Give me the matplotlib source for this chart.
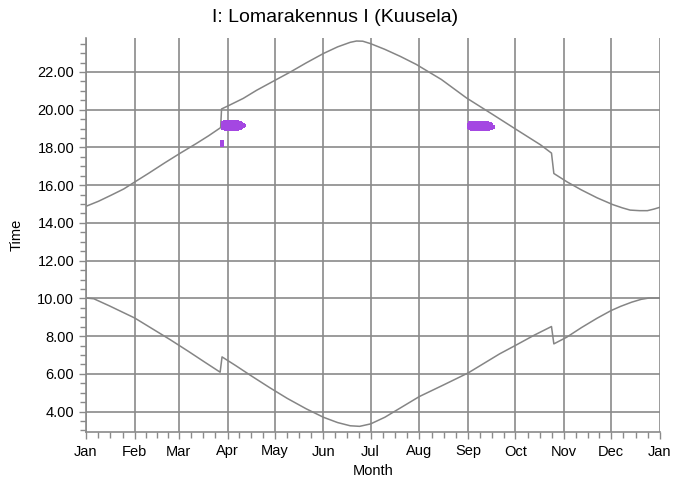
import matplotlib
matplotlib.use("Agg")
import matplotlib.pyplot as plt
from matplotlib.ticker import FixedLocator, MultipleLocator, FuncFormatter

title = "I: Lomarakennus I (Kuusela)"
x_label = "Month"
y_label = "Time"
month_labels = ["Jan", "Feb", "Mar", "Apr", "May", "Jun", "Jul",
                "Aug", "Sep", "Oct", "Nov", "Dec", "Jan"]
month_starts = [0, 31, 59, 90, 120, 151, 181, 212, 243, 273, 304, 334, 365]

# Sunset (upper curve), day of year -> hour
sunset_days = [0, 8, 16, 24, 31, 40, 50, 60, 70, 78, 85.6,
               86.2, 90, 100, 108.5, 120, 130, 140, 151, 160, 168, 172, 176,
               181, 190, 200, 210, 226, 242, 258, 274, 289, 296,
               297.5, 306, 315, 325, 335, 341, 346, 352, 357, 361, 365]
sunset_hours = [14.88, 15.15, 15.47, 15.8, 16.17, 16.64, 17.18, 17.7, 18.2, 18.62, 19.05,
                20.04, 20.19, 20.6, 21.03, 21.55, 22.0, 22.48, 22.98, 23.33, 23.57, 23.64, 23.63,
                23.5, 23.2, 22.82, 22.4, 21.6, 20.62, 19.78, 18.93, 18.14, 17.7,
                16.62, 16.17, 15.75, 15.33, 14.97, 14.8, 14.68, 14.65, 14.65, 14.73, 14.83]

# Sunrise (lower curve)
sunrise_days = [0, 5, 15, 31, 42, 53.4, 65, 75, 85.3,
                86.5, 95, 105, 117, 128, 140, 151, 160, 168, 174, 181,
                190, 200, 212, 227, 243, 263, 274, 285, 296,
                297.5, 305.6, 315, 325, 334, 340, 347, 353, 358, 365]
sunrise_hours = [10.02, 9.98, 9.6, 8.96, 8.4, 7.82, 7.2, 6.65, 6.09,
                 6.9, 6.45, 5.9, 5.26, 4.7, 4.15, 3.7, 3.42, 3.25, 3.22, 3.35,
                 3.7, 4.2, 4.8, 5.4, 6.05, 7.06, 7.55, 8.05, 8.51,
                 7.59, 7.94, 8.45, 8.95, 9.36, 9.58, 9.8, 9.95, 10.02, 10.02]

# Shadow flicker periods (purple): day, start hour, end hour
shadow_a_days = [85, 86, 87]
shadow_a_start = [18.05, 18.05, 18.05]
shadow_a_end = [18.4, 18.4, 18.4]

shadow_b_days = [86, 87, 88, 89, 90, 91, 92, 93, 94, 95, 96, 97, 98, 99, 100, 101]
shadow_b_start = [18.92, 18.9, 18.88, 18.88, 18.88, 18.88, 18.88, 18.88, 18.88,
                  18.88, 18.88, 18.9, 18.93, 18.97, 19.02, 19.08]
shadow_b_end = [19.42, 19.43, 19.43, 19.43, 19.43, 19.43, 19.43, 19.43, 19.43,
                19.43, 19.43, 19.42, 19.38, 19.35, 19.3, 19.22]

shadow_c_days = [242, 243, 244, 245, 246, 247, 248, 249, 250, 251, 252, 253,
                 254, 255, 256, 257, 258, 259]
shadow_c_start = [18.98, 18.9, 18.86, 18.85, 18.85, 18.85, 18.85, 18.85, 18.85,
                  18.85, 18.85, 18.85, 18.85, 18.86, 18.87, 18.9, 18.95, 19.0]
shadow_c_end = [19.3, 19.38, 19.4, 19.4, 19.4, 19.4, 19.4, 19.4, 19.4,
                19.4, 19.4, 19.4, 19.4, 19.4, 19.37, 19.33, 19.28, 19.2]

line_color = "#858585"
grid_color = "#8a8a8a"
purple = "#a447e2"

plt.rcParams["font.family"] = ["Liberation Sans", "DejaVu Sans"]

fig = plt.figure(figsize=(6.74, 4.82), dpi=100)
ax = fig.add_axes([86 / 674, 1 - 432 / 482, (660 - 86) / 674, (432 - 38) / 482])

ax.set_xlim(0, 365)
ax.set_ylim(2.92, 23.8)

ax.xaxis.set_major_locator(FixedLocator(month_starts))
ax.set_xticklabels(month_labels)
minor_x = []
for a, b in zip(month_starts[:-1], month_starts[1:]):
    for k in (1, 2, 3):
        minor_x.append(a + (b - a) * k / 4)
ax.xaxis.set_minor_locator(FixedLocator(minor_x))

ax.yaxis.set_major_locator(MultipleLocator(2))
ax.yaxis.set_minor_locator(MultipleLocator(0.5))
ax.yaxis.set_major_formatter(FuncFormatter(lambda v, p: f"{v:.2f}"))

ax.grid(True, which="major", color=grid_color, linewidth=1.2)
ax.set_axisbelow(True)

for s in ("top", "right"):
    ax.spines[s].set_visible(False)
for s in ("left", "bottom"):
    ax.spines[s].set_color(grid_color)
    ax.spines[s].set_linewidth(1.2)

ax.tick_params(axis="both", which="both", colors=grid_color, labelcolor="black",
               labelsize=10.5)
ax.tick_params(axis="both", which="major", length=5, width=1.0)
ax.tick_params(axis="both", which="minor", length=4, width=1.0)
ax.tick_params(axis="x", which="major", pad=4)

ax.plot(sunset_days, sunset_hours, color=line_color, linewidth=1.1)
ax.plot(sunrise_days, sunrise_hours, color=line_color, linewidth=1.1)

for d, s, e in ((shadow_a_days, shadow_a_start, shadow_a_end),
                (shadow_b_days, shadow_b_start, shadow_b_end),
                (shadow_c_days, shadow_c_start, shadow_c_end)):
    ax.bar(d, [hi - lo for lo, hi in zip(s, e)], bottom=s, width=1.05,
           color=purple, linewidth=0, align="edge", zorder=3)

fig.text(0.497, 1 - 18 / 482, title, fontsize=14, ha="center", va="center")
ax.set_xlabel(x_label, fontsize=10.5, labelpad=4)
ax.set_ylabel(y_label, fontsize=10.5, labelpad=10)

fig.savefig("out.png", dpi=100)
